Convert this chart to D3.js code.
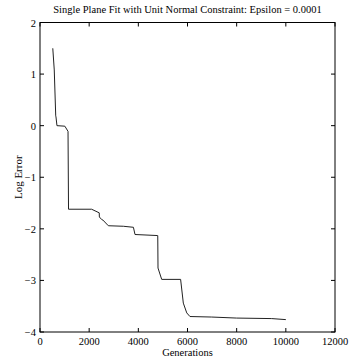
<!DOCTYPE html>
<html>
<head>
<meta charset="utf-8">
<script src="https://cdn.jsdelivr.net/npm/d3@7"></script>
<style>
  body { margin: 0; background: #fff; }
  svg text { font-family: "Liberation Serif", "DejaVu Serif", serif; fill: #000; }
</style>
</head>
<body>
<svg id="chart" width="349" height="363"></svg>
<script>
// generations vs log error
const generations = [520, 580, 640, 650, 690, 1010, 1140, 1160, 2100, 2410, 2415, 2510, 2560, 2780, 3390, 3800, 3865, 4790, 4770, 4800, 4950, 5720, 5830, 5970, 6100, 6985, 8000, 9425, 10000];
const logError = [1.5, 1.08, 0.19, 0.17, 0.0, -0.01, -0.11, -1.62, -1.62, -1.69, -1.77, -1.82, -1.83, -1.94, -1.95, -1.97, -2.11, -2.13, -2.13, -2.76, -2.98, -2.98, -3.44, -3.63, -3.70, -3.71, -3.73, -3.74, -3.76];
const xTicks = [0, 2000, 4000, 6000, 8000, 10000, 12000];
const yTicks = [-4, -3, -2, -1, 0, 1, 2];

const points = generations.map((g, i) => ({ g: g, v: logError[i] }));
// keep x monotone for the steps
points.sort((a, b) => a.g - b.g || b.v - a.v);

const margin = { top: 22.5, right: 14, bottom: 31, left: 40 };
const width = 349, height = 363;
const svg = d3.select('#chart');

const x = d3.scaleLinear().domain([0, 12000]).range([margin.left, width - margin.right]);
const y = d3.scaleLinear().domain([-4, 2]).range([height - margin.bottom, margin.top]);

// box
svg.append('rect')
    .attr('x', x(0)).attr('y', y(2))
    .attr('width', x(12000) - x(0)).attr('height', y(-4) - y(2))
    .attr('fill', 'none').attr('stroke', '#000').attr('stroke-width', 1);

const tick = 4;
const g = svg.append('g').attr('stroke', '#000').attr('stroke-width', 1);
xTicks.forEach(t => {
    g.append('line').attr('x1', x(t)).attr('x2', x(t)).attr('y1', y(-4)).attr('y2', y(-4) - tick);
    g.append('line').attr('x1', x(t)).attr('x2', x(t)).attr('y1', y(2)).attr('y2', y(2) + tick);
});
yTicks.forEach(t => {
    g.append('line').attr('y1', y(t)).attr('y2', y(t)).attr('x1', x(0)).attr('x2', x(0) + tick);
    g.append('line').attr('y1', y(t)).attr('y2', y(t)).attr('x1', x(12000)).attr('x2', x(12000) - tick);
});

svg.append('g').selectAll('text')
    .data(xTicks)
    .enter().append('text')
    .attr('x', d => x(d))
    .attr('y', y(-4) + 13)
    .attr('text-anchor', 'middle')
    .attr('font-size', 10.5)
    .text(d => d);

svg.append('g').selectAll('text')
    .data(yTicks)
    .enter().append('text')
    .attr('x', x(0) - 4)
    .attr('y', d => y(d) + 4)
    .attr('text-anchor', 'end')
    .attr('font-size', 10.5)
    .text(d => d < 0 ? '\u2212' + Math.abs(d) : d);

const line = d3.line()
    .x(d => x(d.g))
    .y(d => y(d.v));

svg.append('path')
    .datum(points)
    .attr('d', line)
    .attr('fill', 'none')
    .attr('stroke', '#222')
    .attr('stroke-width', 1);

svg.append('text')
    .attr('x', (x(0) + x(12000)) / 2)
    .attr('y', 13)
    .attr('text-anchor', 'middle')
    .attr('font-size', 10.5)
    .text('Single Plane Fit with Unit Normal Constraint: Epsilon = 0.0001');

svg.append('text')
    .attr('x', (x(0) + x(12000)) / 2)
    .attr('y', 356)
    .attr('text-anchor', 'middle')
    .attr('font-size', 10.5)
    .text('Generations');

svg.append('text')
    .attr('transform', 'translate(22,' + y(-1) + ') rotate(-90)')
    .attr('text-anchor', 'middle')
    .attr('font-size', 11)
    .text('Log Error');
</script>
</body>
</html>
